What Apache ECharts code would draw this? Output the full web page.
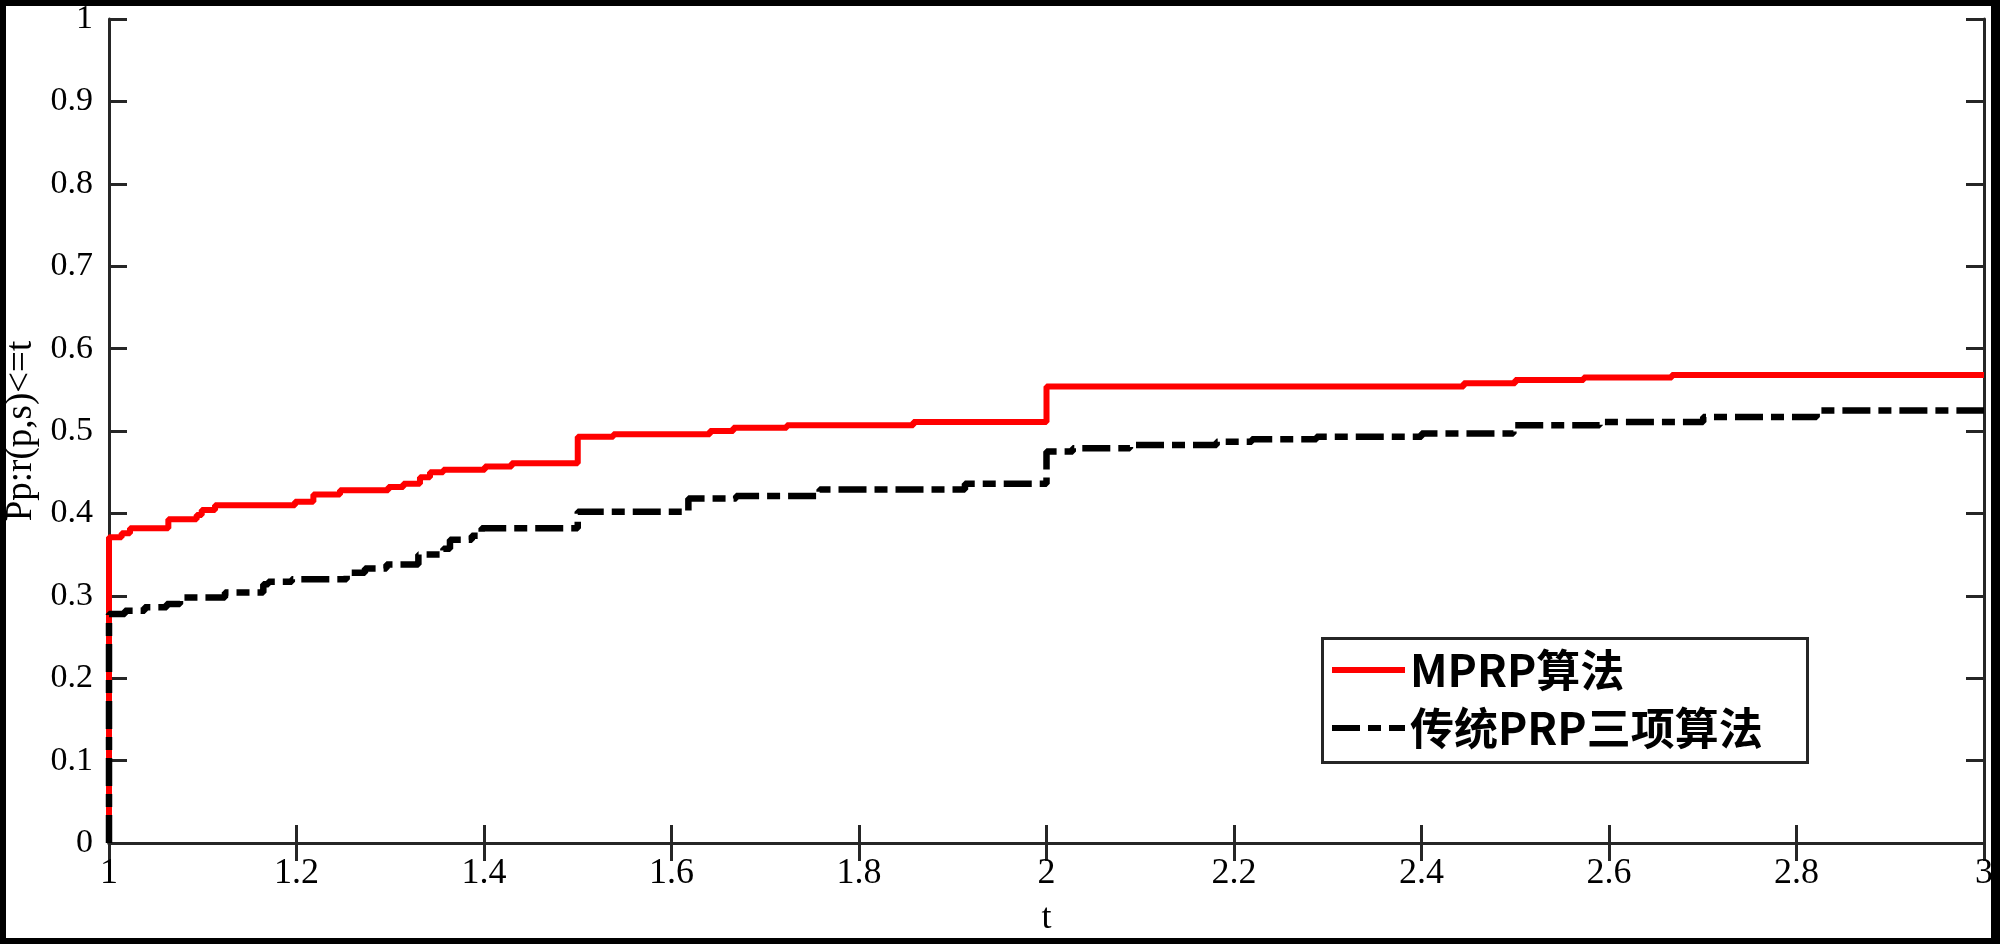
<!DOCTYPE html>
<html>
<head>
<meta charset="utf-8">
<script src="https://cdn.jsdelivr.net/npm/echarts@6/dist/echarts.min.js"></script>
<style>
  html, body { margin: 0; padding: 0; width: 2000px; height: 944px; background: #000; overflow: hidden; }
  #chart { position: absolute; left: 6px; top: 6px; width: 1985px; height: 932px; background: #fff; }
</style>
</head>
<body>
<div id="chart"></div>
<script>
// 系列名称
const seriesNames = ["MPRP算法", "传统PRP三项算法"];
const xName = "t";
const yName = "Pp:r(p,s)<=t";

// MPRP 算法 (阶梯, 每个点的值保持到下一个 t)
const mprpT = [1, 1, 1.0135, 1.0224, 1.0633, 1.0935, 1.0989, 1.1131, 1.1984, 1.218, 1.2464, 1.298, 1.314, 1.3317,
  1.3424, 1.3566, 1.401, 1.4295, 1.5, 1.538, 1.641, 1.666, 1.723, 1.858, 2.0, 2.445, 2.5, 2.573, 2.667, 3];
const mprpP = [0, 0.371, 0.376, 0.382, 0.393, 0.398, 0.404, 0.41, 0.414, 0.423, 0.428, 0.432, 0.436, 0.444,
  0.45, 0.453, 0.457, 0.461, 0.493, 0.496, 0.5, 0.504, 0.507, 0.511, 0.554, 0.558, 0.562, 0.565, 0.568, 0.568];

// 传统PRP三项算法
const prpT = [1, 1, 1.017, 1.038, 1.0615, 1.0757, 1.1237, 1.1646, 1.17, 1.195, 1.2535, 1.273, 1.296, 1.33,
  1.3567, 1.3637, 1.387, 1.3975, 1.5, 1.618, 1.669, 1.758, 1.913, 2.0, 2.028, 2.089, 2.1815, 2.219, 2.288,
  2.4, 2.498, 2.59, 2.7005, 2.8215, 3];
const prpP = [0, 0.278, 0.282, 0.286, 0.29, 0.298, 0.304, 0.314, 0.317, 0.32, 0.328, 0.333, 0.338, 0.35,
  0.357, 0.368, 0.373, 0.382, 0.402, 0.418, 0.421, 0.429, 0.436, 0.475, 0.479, 0.483, 0.487, 0.49, 0.493,
  0.497, 0.507, 0.511, 0.517, 0.525, 0.525];

const toPairs = (ts, ps) => ts.map((t, i) => [t, ps[i]]);

const chart = echarts.init(document.getElementById("chart"));

const axisLine = { show: true, lineStyle: { color: "#262626", width: 3 } };
const axisTick = { show: true, inside: true, length: 18, lineStyle: { color: "#262626", width: 3 } };
const serif = "Liberation Serif";

const option = {
  animation: false,
  // 固定绘图区, 不让标签把坐标区挤小
  grid: { left: 103, top: 13, width: 1875, height: 824, containLabel: false, outerBoundsMode: "none" },
  legend: {
    orient: "vertical",
    left: 1323,
    top: 635,
    padding: 0,
    itemGap: 0,
    itemWidth: 73,
    itemHeight: 14,
    // 图例里不要圆点, 线宽同曲线
    itemStyle: { opacity: 0 },
    lineStyle: { width: 6 },
    textStyle: {
      fontFamily: "Noto Sans CJK SC",
      fontWeight: "bold",
      fontSize: 44,
      lineHeight: 58,
      color: "#000",
    },
    data: seriesNames,
  },
  graphic: [
    {
      type: "rect",
      left: 1315,
      top: 631,
      z: 3,
      shape: { width: 485, height: 124 },
      style: { fill: "#fff", stroke: "#262626", lineWidth: 3 },
    },
  ],
  xAxis: [
    {
      type: "value",
      min: 1,
      max: 3,
      interval: 0.2,
      name: xName,
      nameLocation: "middle",
      nameGap: 58,
      nameTextStyle: { fontFamily: serif, fontSize: 36, color: "#000" },
      axisLine: axisLine,
      axisTick: axisTick,
      splitLine: { show: false },
      axisLabel: { fontFamily: serif, fontSize: 36, color: "#000", margin: 13 },
    },
    {
      type: "value",
      position: "top",
      min: 1,
      max: 3,
      interval: 0.2,
      axisLine: axisLine,
      axisTick: axisTick,
      splitLine: { show: false },
      axisLabel: { show: false },
    },
  ],
  yAxis: [
    {
      type: "value",
      min: 0,
      max: 1,
      interval: 0.1,
      name: yName,
      nameLocation: "middle",
      nameGap: 64,
      nameTextStyle: { fontFamily: serif, fontSize: 37, color: "#000" },
      axisLine: axisLine,
      axisTick: axisTick,
      splitLine: { show: false },
      axisLabel: { fontFamily: serif, fontSize: 34, color: "#000", margin: 16 },
    },
    {
      type: "value",
      position: "right",
      min: 0,
      max: 1,
      interval: 0.1,
      axisLine: axisLine,
      axisTick: axisTick,
      splitLine: { show: false },
      axisLabel: { show: false },
    },
  ],
  series: [
    {
      name: seriesNames[0],
      type: "line",
      step: "end",
      symbol: "none",
      clip: false,
      data: toPairs(mprpT, mprpP),
      itemStyle: { color: "#ff0000" },
      lineStyle: { color: "#ff0000", width: 6 },
    },
    {
      name: seriesNames[1],
      type: "line",
      step: "end",
      symbol: "none",
      clip: false,
      data: toPairs(prpT, prpP),
      itemStyle: { color: "#000" },
      lineStyle: { color: "#000", width: 6.5, type: [28, 8, 13, 8], cap: "butt" },
    },
  ],
};

chart.setOption(option);
window.addEventListener("resize", () => chart.resize());
</script>
</body>
</html>
